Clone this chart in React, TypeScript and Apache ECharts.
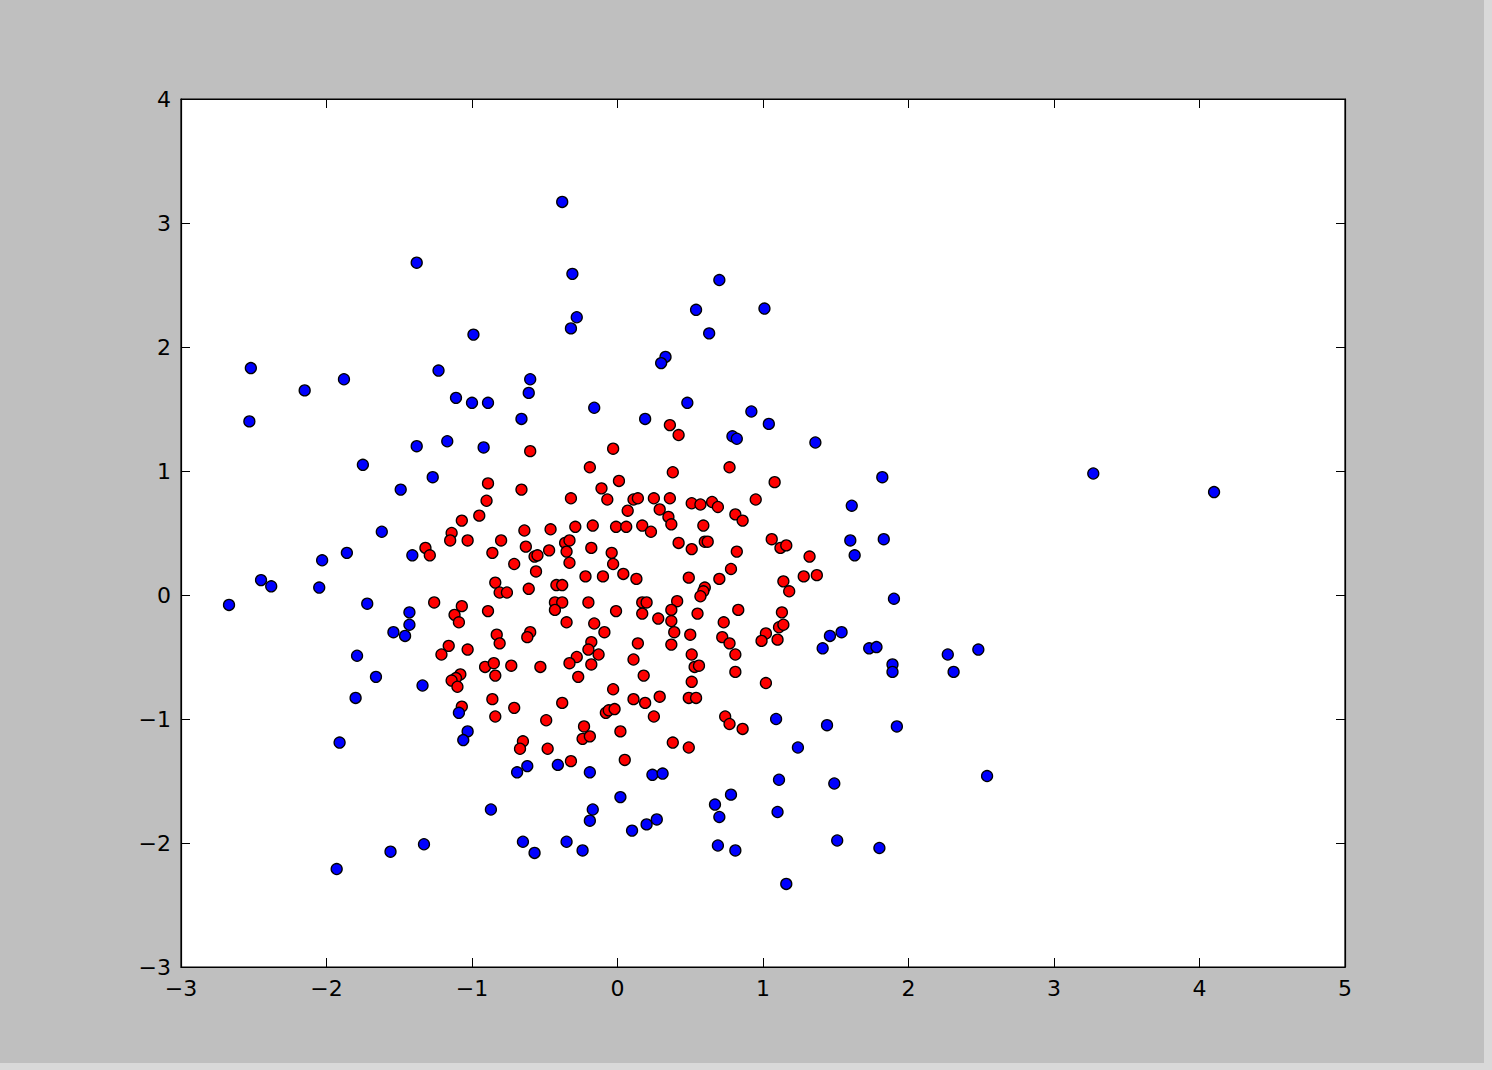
import React, { useEffect, useRef } from "react";
import * as echarts from "echarts";

// Red (inner) cluster points [x, y]
const redPoints: number[][] = [
  [-0.60, 1.16], [-0.03, 1.18], [-0.19, 1.03], [-0.89, 0.90], [-0.66, 0.85], [-0.11, 0.86],
  [-0.07, 0.77], [0.01, 0.92], [-0.32, 0.78], [-0.90, 0.76], [-0.95, 0.64], [-1.07, 0.60],
  [-1.14, 0.50], [-1.15, 0.44], [-1.03, 0.44], [-1.32, 0.38], [-1.29, 0.32], [-0.80, 0.44],
  [-0.86, 0.34], [-0.64, 0.52], [-0.46, 0.53], [-0.29, 0.55], [-0.17, 0.56], [-0.01, 0.55],
  [-0.63, 0.39], [-0.47, 0.36], [-0.36, 0.42], [-0.33, 0.44], [-0.35, 0.35], [-0.33, 0.26],
  [-0.18, 0.38], [-0.04, 0.34], [-0.03, 0.25], [-0.57, 0.31], [-0.55, 0.32], [-0.71, 0.25],
  [-0.56, 0.19], [-0.22, 0.15], [-0.10, 0.15], [-0.84, 0.10], [-0.81, 0.02], [-0.76, 0.02],
  [-0.61, 0.05], [-0.42, 0.08], [-0.38, 0.08], [-0.43, -0.06], [-0.38, -0.06], [-0.20, -0.06],
  [-1.26, -0.06], [-1.07, -0.09], [-0.89, -0.13], [-0.43, -0.12], [-0.01, -0.13], [-1.12, -0.16],
  [-1.09, -0.22], [-0.35, -0.22], [-0.16, -0.23], [-0.09, -0.30], [-0.83, -0.32], [-0.81, -0.39],
  [-0.60, -0.30], [-0.62, -0.34], [-1.16, -0.41], [-1.21, -0.48], [-1.03, -0.44], [-0.18, -0.38],
  [-0.20, -0.44], [-0.13, -0.48], [-0.28, -0.50], [-0.33, -0.55], [-0.18, -0.56], [-0.91, -0.58],
  [-0.85, -0.55], [-0.84, -0.65], [-0.73, -0.57], [-0.53, -0.58], [-0.27, -0.66], [-1.08, -0.64],
  [-1.11, -0.67], [-1.14, -0.69], [-1.10, -0.74], [-0.03, -0.76], [-0.86, -0.84], [-0.71, -0.91],
  [-0.38, -0.87], [-1.07, -0.90], [-0.84, -0.98], [-0.49, -1.01], [-0.08, -0.95], [-0.06, -0.93],
  [-0.02, -0.92], [-0.23, -1.06], [-0.24, -1.16], [-0.19, -1.14], [-0.65, -1.18], [-0.67, -1.24],
  [-0.48, -1.24], [-0.32, -1.34], [0.02, -1.10], [0.36, 1.37], [0.42, 1.29], [0.38, 0.99],
  [0.77, 1.03], [1.08, 0.91], [0.11, 0.77], [0.14, 0.78], [0.25, 0.78], [0.36, 0.78],
  [0.51, 0.74], [0.57, 0.73], [0.65, 0.75], [0.69, 0.71], [0.95, 0.77], [0.07, 0.68],
  [0.29, 0.69], [0.35, 0.63], [0.37, 0.57], [0.81, 0.65], [0.86, 0.60], [0.06, 0.55],
  [0.17, 0.56], [0.23, 0.51], [0.59, 0.56], [0.42, 0.42], [0.51, 0.37], [0.60, 0.43],
  [0.62, 0.43], [0.82, 0.35], [1.06, 0.45], [1.12, 0.38], [1.16, 0.40], [1.32, 0.31],
  [0.04, 0.17], [0.13, 0.13], [0.49, 0.14], [0.70, 0.13], [0.78, 0.21], [0.60, 0.06],
  [0.59, 0.03], [0.57, -0.01], [1.14, 0.11], [1.18, 0.03], [1.28, 0.15], [1.37, 0.16],
  [0.17, -0.06], [0.20, -0.06], [0.41, -0.05], [0.37, -0.12], [0.83, -0.12], [0.17, -0.15],
  [0.28, -0.19], [0.37, -0.21], [0.55, -0.15], [1.13, -0.14], [0.73, -0.22], [1.11, -0.26],
  [1.14, -0.24], [1.02, -0.31], [0.99, -0.37], [1.10, -0.36], [0.39, -0.30], [0.50, -0.32],
  [0.72, -0.34], [0.77, -0.39], [0.81, -0.48], [0.14, -0.39], [0.37, -0.40], [0.51, -0.48],
  [0.11, -0.52], [0.53, -0.58], [0.56, -0.57], [0.18, -0.65], [0.51, -0.70], [0.81, -0.62],
  [1.02, -0.71], [0.11, -0.84], [0.19, -0.87], [0.29, -0.82], [0.49, -0.83], [0.54, -0.83],
  [0.25, -0.98], [0.74, -0.98], [0.77, -1.04], [0.86, -1.08], [0.38, -1.19], [0.49, -1.23],
  [0.05, -1.33],
];

// Blue (outer) ring points [x, y]
const bluePoints: number[][] = [
  [-1.11, 1.59], [-1.00, 1.55], [-0.89, 1.55], [-0.16, 1.51], [-0.66, 1.42], [-1.17, 1.24],
  [-0.92, 1.19], [-1.38, 1.20], [-1.27, 0.95], [-1.38, 2.68], [-0.99, 2.10], [-2.52, 1.83],
  [-2.53, 1.40], [-2.15, 1.65], [-1.88, 1.74], [-1.23, 1.81], [-0.60, 1.74], [-0.61, 1.63],
  [-1.75, 1.05], [-1.49, 0.85], [-0.38, 3.17], [-0.31, 2.59], [0.70, 2.54], [-0.28, 2.24],
  [-0.32, 2.15], [0.54, 2.30], [1.01, 2.31], [0.63, 2.11], [0.33, 1.92], [0.30, 1.87],
  [0.48, 1.55], [0.19, 1.42], [0.92, 1.48], [1.04, 1.38], [0.79, 1.28], [0.82, 1.26],
  [1.36, 1.23], [1.82, 0.95], [1.61, 0.72], [1.60, 0.44], [1.63, 0.32], [1.83, 0.45],
  [1.90, -0.03], [1.46, -0.33], [1.54, -0.30], [1.41, -0.43], [1.73, -0.43], [1.78, -0.42],
  [1.89, -0.56], [1.89, -0.62], [1.44, -1.05], [1.92, -1.06], [1.24, -1.23], [1.11, -1.49],
  [1.49, -1.52], [3.27, 0.98], [4.10, 0.83], [2.27, -0.48], [2.48, -0.44], [2.31, -0.62],
  [2.54, -1.46], [1.09, -1.00], [0.24, -1.45], [0.31, -1.44], [0.02, -1.63], [0.78, -1.61],
  [-1.34, -0.73], [-1.09, -0.95], [-1.03, -1.10], [-1.06, -1.17], [-0.41, -1.37], [-0.62, -1.38],
  [-0.69, -1.43], [-0.19, -1.43], [-1.62, 0.51], [-1.86, 0.34], [-2.03, 0.28], [-1.41, 0.32],
  [-2.45, 0.12], [-2.38, 0.07], [-2.05, 0.06], [-2.67, -0.08], [-1.72, -0.07], [-1.43, -0.14],
  [-1.43, -0.24], [-1.54, -0.30], [-1.46, -0.33], [-1.79, -0.49], [-1.66, -0.66], [-1.80, -0.83],
  [-1.91, -1.19], [-1.33, -2.01], [-1.56, -2.07], [-1.93, -2.21], [-0.87, -1.73], [-0.65, -1.99],
  [-0.57, -2.08], [-0.35, -1.99], [-0.24, -2.06], [-0.17, -1.73], [-0.19, -1.82], [0.10, -1.90],
  [0.20, -1.85], [0.27, -1.81], [0.67, -1.69], [0.70, -1.79], [1.10, -1.75], [0.69, -2.02],
  [0.81, -2.06], [1.16, -2.33], [1.51, -1.98], [1.80, -2.04],
];

const xTicks = { min: -3, max: 5, step: 1 };
const yTicks = { min: -3, max: 4, step: 1 };

const fmt = (v: number) => (v < 0 ? "\u2212" + Math.abs(v) : String(v));

export default function App() {
  const ref = useRef<HTMLDivElement>(null);

  useEffect(() => {
    document.body.style.margin = "0";
    if (!ref.current) return;
    const chart = echarts.init(ref.current, null, { renderer: "svg" });

    const labelStyle = {
      color: "#000",
      fontSize: 22,
      fontFamily: "DejaVu Sans",
    };
    const tick = { show: true, inside: true, length: 9, lineStyle: { color: "#000", width: 1 } };
    const line = { show: true, lineStyle: { color: "#000", width: 1.2 } };

    const xBase = {
      type: "value" as const,
      min: xTicks.min,
      max: xTicks.max,
      interval: xTicks.step,
      splitLine: { show: false },
      axisLine: { ...line, onZero: false },
      axisTick: tick,
    };
    const yBase = {
      type: "value" as const,
      min: yTicks.min,
      max: yTicks.max,
      interval: yTicks.step,
      splitLine: { show: false },
      axisLine: { ...line, onZero: false },
      axisTick: tick,
    };

    const marker = (color: string) => ({
      color,
      borderColor: "#000",
      borderWidth: 1.3,
      opacity: 1,
    });

    chart.setOption({
      animation: false,
      backgroundColor: "#bfbfbf",
      grid: {
        left: 181,
        top: 99,
        width: 1164,
        height: 868,
        show: true,
        backgroundColor: "#ffffff",
        borderColor: "#000",
        borderWidth: 1.2,
      },
      xAxis: [
        {
          ...xBase,
          position: "bottom",
          axisLabel: { ...labelStyle, margin: 10, formatter: fmt },
        },
        {
          ...xBase,
          position: "top",
          axisLabel: { show: false },
        },
      ],
      yAxis: [
        {
          ...yBase,
          position: "left",
          axisLabel: { ...labelStyle, margin: 10, formatter: fmt },
        },
        {
          ...yBase,
          position: "right",
          axisLabel: { show: false },
        },
      ],
      series: [
        {
          type: "scatter",
          xAxisIndex: 0,
          yAxisIndex: 0,
          data: redPoints,
          symbol: "circle",
          symbolSize: 11,
          itemStyle: marker("#ff0000"),
          emphasis: { disabled: true },
        },
        {
          type: "scatter",
          xAxisIndex: 0,
          yAxisIndex: 0,
          data: bluePoints,
          symbol: "circle",
          symbolSize: 11,
          itemStyle: marker("#0000ff"),
          emphasis: { disabled: true },
        },
      ],
    });

    return () => chart.dispose();
  }, []);

  return (
    <div
      style={{
        position: "fixed",
        left: 0,
        top: 0,
        width: 1492,
        height: 1070,
        background: "#d9d9d9",
      }}
    >
      <div ref={ref} style={{ width: 1484, height: 1063 }} />
    </div>
  );
}
